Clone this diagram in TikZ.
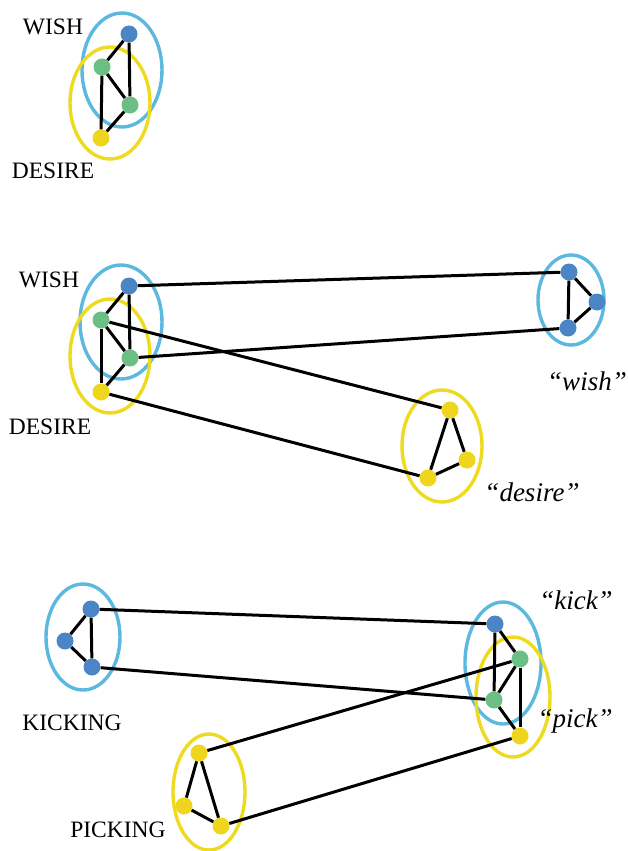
\documentclass[tikz,border=0pt]{standalone}
\usepackage{fontspec}
\setmainfont{Liberation Serif}
\definecolor{dotblue}{HTML}{4A86C5}
\definecolor{dotgreen}{HTML}{6BBF85}
\definecolor{dotyellow}{HTML}{F0D51E}
\definecolor{ringblue}{HTML}{5BB8DF}
\definecolor{ringyellow}{HTML}{EEDA1E}
\begin{document}
\begin{tikzpicture}[x=1pt,y=-1pt,
  dot/.style={circle,inner sep=0pt,minimum size=17pt},
  bd/.style={dot,fill=dotblue},
  gd/.style={dot,fill=dotgreen},
  yd/.style={dot,fill=dotyellow},
  link/.style={line width=3pt,black},
  ringb/.style={draw=ringblue,line width=3.4pt},
  ringy/.style={draw=ringyellow,line width=3.4pt},
  lab/.style={font=\fontsize{23.5}{28}\selectfont,inner sep=0pt},
  ilab/.style={font=\fontsize{27}{32}\selectfont\itshape,inner sep=0pt}]
\useasboundingbox (0,0) rectangle (628,851);

% ---------- top group ----------
\draw[ringb] (122,70) ellipse [x radius=40, y radius=57];
\draw[ringy] (110,103) ellipse [x radius=40, y radius=56];
\node[bd] (t1) at (129,34) {};
\node[gd] (t2) at (102,67) {};
\node[gd] (t3) at (130,105) {};
\node[yd] (t4) at (101,138) {};
\draw[link] (t1) -- (t2);
\draw[link] (t1) -- (t3);
\draw[link] (t2) -- (t3);
\draw[link] (t2) -- (t4);
\draw[link] (t3) -- (t4);
\node[lab] (tw) at (53,27) {WISH};
\node[lab] (td) at (53,171) {DESIRE};

% ---------- middle group ----------
\draw[ringb] (121,322) ellipse [x radius=41, y radius=57];
\draw[ringy] (110,356) ellipse [x radius=40, y radius=57];
\node[bd] (m1) at (129,286) {};
\node[gd] (m2) at (101,320) {};
\node[gd] (m3) at (130,358) {};
\node[yd] (m4) at (101,392) {};
\draw[link] (m1) -- (m2);
\draw[link] (m1) -- (m3);
\draw[link] (m2) -- (m3);
\draw[link] (m2) -- (m4);
\draw[link] (m3) -- (m4);
\node[lab] (mw) at (49,280) {WISH};
\node[lab] (md) at (50,427) {DESIRE};

\draw[ringb] (571,300) ellipse [x radius=33, y radius=45];
\node[bd] (w1) at (569,272) {};
\node[bd] (w2) at (597,302) {};
\node[bd] (w3) at (568,328) {};
\draw[link] (w1) -- (w2);
\draw[link] (w2) -- (w3);
\draw[link] (w1) -- (w3);
\node[ilab] (wl) at (587,381) {“wish”};

\draw[ringy] (442,446) ellipse [x radius=40, y radius=56];
\node[yd] (d1) at (450,410) {};
\node[yd] (d2) at (467,460) {};
\node[yd] (d3) at (428,478) {};
\draw[link] (d1) -- (d2);
\draw[link] (d2) -- (d3);
\draw[link] (d1) -- (d3);
\node[ilab] (dl) at (532,492) {“desire”};

\draw[link] (m1) -- (w1);
\draw[link] (m3) -- (w3);
\draw[link] (m2) -- (d1);
\draw[link] (m4) -- (d3);

% ---------- bottom group ----------
\draw[ringb] (83,637) ellipse [x radius=37, y radius=53];
\node[bd] (k1) at (91,609) {};
\node[bd] (k2) at (65,641) {};
\node[bd] (k3) at (92,667) {};
\draw[link] (k1) -- (k2);
\draw[link] (k2) -- (k3);
\draw[link] (k1) -- (k3);
\node[lab] (kl) at (72,723) {KICKING};

\draw[ringy] (209,792) ellipse [x radius=36, y radius=58];
\node[yd] (p1) at (199,753) {};
\node[yd] (p2) at (184,806) {};
\node[yd] (p3) at (221,826) {};
\draw[link] (p1) -- (p2);
\draw[link] (p2) -- (p3);
\draw[link] (p1) -- (p3);
\node[lab] (pl) at (118,830) {PICKING};

\draw[ringb] (503,663) ellipse [x radius=38, y radius=61];
\draw[ringy] (513,697) ellipse [x radius=37, y radius=60];
\node[bd] (r1) at (495,624) {};
\node[gd] (r2) at (520,659) {};
\node[gd] (r3) at (494,700) {};
\node[yd] (r4) at (520,736) {};
\draw[link] (r1) -- (r2);
\draw[link] (r1) -- (r3);
\draw[link] (r2) -- (r3);
\draw[link] (r2) -- (r4);
\draw[link] (r3) -- (r4);
\node[ilab] (kk) at (576,600) {“kick”};
\node[ilab] (pk) at (575,721) {“pick”};

\draw[link] (k1) -- (r1);
\draw[link] (k3) -- (r3);
\draw[link] (p1) -- (r2);
\draw[link] (p3) -- (r4);
\end{tikzpicture}
\end{document}
